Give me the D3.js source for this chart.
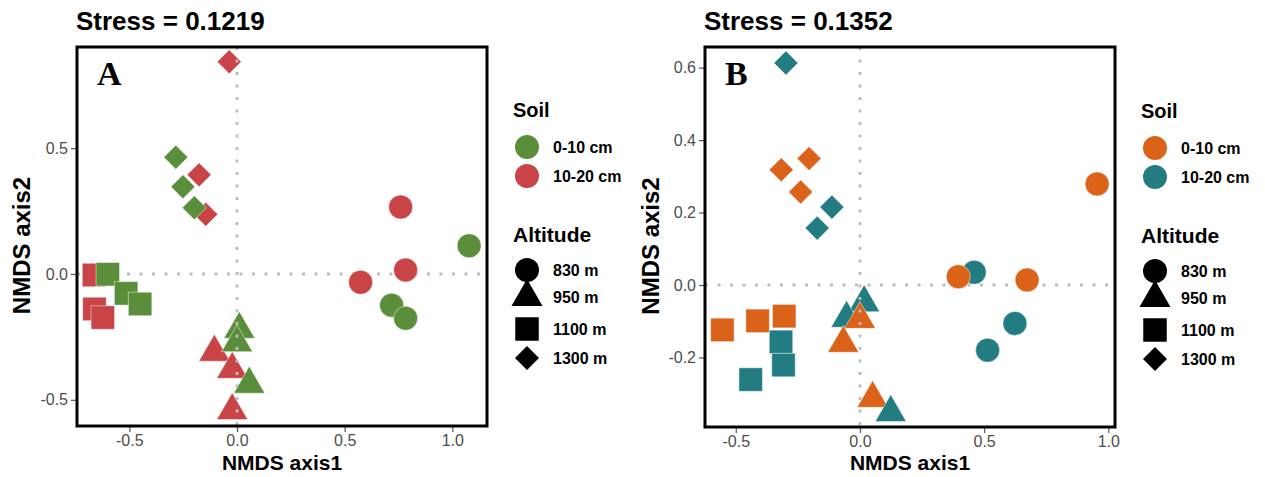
<!DOCTYPE html>
<html>
<head>
<meta charset="utf-8">
<script src="https://cdn.jsdelivr.net/npm/d3@7"></script>
<style>
  body { margin: 0; background: #fff; }
  text { font-family: "Liberation Sans", Arial, sans-serif; }
</style>
</head>
<body>
<div id="chart"></div>
<script>
/* values */
var soilLevels = ['0-10 cm', '10-20 cm'];
var altitudeLevels = ['830 m', '950 m', '1100 m', '1300 m'];

// panel A (listed in drawing order)
var axis1A = [0.760, 0.783, 0.574, -0.105, -0.022, -0.022, -0.664, -0.662, -0.623, -0.036, -0.176, -0.145,
              1.078, 0.718, 0.783, 0.011, 0.000, 0.057, -0.600, -0.515, -0.450, -0.284, -0.251, -0.198];
var axis2A = [0.266, 0.016, -0.033, -0.311, -0.379, -0.543, -0.004, -0.139, -0.173, 0.843, 0.394, 0.237,
              0.112, -0.124, -0.176, -0.220, -0.273, -0.438, -0.001, -0.077, -0.119, 0.464, 0.347, 0.263];
var soilA = [1,1,1, 1,1,1, 1,1,1, 1,1,1,
             0,0,0, 0,0,0, 0,0,0, 0,0,0];
var altA  = [0,0,0, 1,1,1, 2,2,2, 3,3,3,
             0,0,0, 1,1,1, 2,2,2, 3,3,3];

// panel B
var axis1B = [0.460, 0.624, 0.514, -0.318, -0.308, -0.440, -0.298, -0.113, -0.172, 0.017, -0.054,
              0.955, 0.396, 0.673, 0.000, -0.067, 0.051, -0.554, -0.412, -0.305, -0.317, -0.205, -0.239,
              0.124];
var axis2B = [0.035, -0.106, -0.180, -0.157, -0.221, -0.261, 0.613, 0.215, 0.157, -0.049, -0.092,
              0.279, 0.023, 0.014, -0.095, -0.161, -0.313, -0.124, -0.099, -0.086, 0.318, 0.349, 0.257,
              -0.352];
var soilB = [1,1,1, 1,1,1, 1,1,1, 1,1,
             0,0,0, 0,0,0, 0,0,0, 0,0,0,
             1];
var altB  = [0,0,0, 2,2,2, 3,3,3, 1,1,
             0,0,0, 1,1,1, 2,2,2, 3,3,3,
             1];

var stressA = 'Stress = 0.1219', stressB = 'Stress = 0.1352';
var xTicksA = [-0.5, 0, 0.5, 1.0], yTicksA = [-0.5, 0, 0.5];
var xTicksB = [-0.5, 0, 0.5, 1.0], yTicksB = [-0.2, 0, 0.2, 0.4, 0.6];
var xDomainA = [-0.743, 1.161], yDomainA = [-0.604, 0.902];
var xDomainB = [-0.624, 1.027], yDomainB = [-0.392, 0.657];

var svg = d3.select('#chart').append('svg')
    .attr('width', 1265)
    .attr('height', 477);

// shape for each altitude level
var shapeTypes = [d3.symbolCircle, d3.symbolTriangle, d3.symbolSquare, d3.symbolSquare];
var shapeSizes = [452, 416, 552, 289];
var shapeRotate = [0, 0, 0, 45];

function symbolPath(a){
    return d3.symbol().type(shapeTypes[a]).size(shapeSizes[a])();
}

function drawPanel(p){
    var g = svg.append('g');
    var x = d3.scaleLinear().domain(p.xDomain).range([p.left, p.right]);
    var y = d3.scaleLinear().domain(p.yDomain).range([p.bottom, p.top]);
    var fmt = function(d){ return d.toFixed(1); };

    // axes
    var xAxis = g.append('g')
        .attr('transform', 'translate(0,' + p.bottom + ')')
        .call(d3.axisBottom(x).tickValues(p.xTicks).tickFormat(fmt).tickSize(6).tickPadding(3));
    var yAxis = g.append('g')
        .attr('transform', 'translate(' + p.left + ',0)')
        .call(d3.axisLeft(y).tickValues(p.yTicks).tickFormat(fmt).tickSize(6).tickPadding(3));
    [xAxis, yAxis].forEach(function(a){
        a.select('.domain').remove();
        a.selectAll('line').attr('stroke', '#555').attr('stroke-width', 1.2);
        a.selectAll('text').attr('fill', '#4d4d4d').style('font-size', '16px');
    });

    var dotted = function(sel){
        sel.attr('stroke', '#bdbdbd').attr('stroke-width', 2.8).attr('stroke-dasharray', '3,9.5');
    };

    // horizontal zero line sits under the points
    g.append('line')
        .attr('x1', p.left).attr('x2', p.right)
        .attr('y1', y(0)).attr('y2', y(0))
        .call(dotted);

    // points
    var idx = d3.range(p.ax1.length);
    g.selectAll('.pt')
        .data(idx)
        .enter()
        .append('path')
        .attr('class', 'pt')
        .attr('d', function(i){ return symbolPath(p.alt[i]); })
        .attr('transform', function(i){
            return 'translate(' + x(p.ax1[i]) + ',' + y(p.ax2[i]) + ') rotate(' + shapeRotate[p.alt[i]] + ')';
        })
        .attr('fill', function(i){ return p.colors[p.soil[i]]; })
        .attr('stroke', '#fff')
        .attr('stroke-opacity', 0.6)
        .attr('stroke-width', 0.8);

    // vertical zero line is drawn over them
    g.append('line')
        .attr('x1', x(0)).attr('x2', x(0))
        .attr('y1', p.top).attr('y2', p.bottom)
        .call(dotted);

    // panel border
    g.append('rect')
        .attr('x', p.left).attr('y', p.top)
        .attr('width', p.right - p.left).attr('height', p.bottom - p.top)
        .attr('fill', 'none').attr('stroke', '#000').attr('stroke-width', 3);

    // titles
    g.append('text')
        .attr('x', p.left - 1).attr('y', 30)
        .style('font-size', '26px').style('font-weight', 'bold')
        .text(p.stress);
    g.append('text')
        .attr('x', p.left + 20).attr('y', 85)
        .style('font-family', '"Liberation Serif", "Times New Roman", serif')
        .style('font-size', '34px').style('font-weight', 'bold')
        .text(p.letter);
    g.append('text')
        .attr('x', (p.left + p.right) / 2).attr('y', 470)
        .attr('text-anchor', 'middle')
        .style('font-size', '21px').style('font-weight', 'bold')
        .text('NMDS axis1');
    g.append('text')
        .attr('transform', 'translate(' + p.yTitleX + ',' + ((p.top + p.bottom) / 2 + 9) + ') rotate(-90)')
        .attr('text-anchor', 'middle')
        .style('font-size', '24px').style('font-weight', 'bold')
        .text('NMDS axis2');

    // legend
    var lg = g.append('g').attr('transform', 'translate(' + p.legendX + ',' + p.legendY + ')');
    lg.append('text').attr('x', 0).attr('y', 0)
        .style('font-size', '20px').style('font-weight', 'bold').text('Soil');
    soilLevels.forEach(function(s, i){
        lg.append('path')
            .attr('d', symbolPath(0))
            .attr('transform', 'translate(14,' + (30 + i * 29) + ')')
            .attr('fill', p.colors[i]);
        lg.append('text')
            .attr('x', 40).attr('y', 30 + i * 29).attr('dy', '0.36em')
            .style('font-size', '16px').style('font-weight', 'bold').text(s);
    });
    lg.append('text').attr('x', 0).attr('y', 125)
        .style('font-size', '21px').style('font-weight', 'bold').text('Altitude');
    var altY = [153, 180, 212, 241];
    altitudeLevels.forEach(function(a, i){
        lg.append('path')
            .attr('d', symbolPath(i))
            .attr('transform', 'translate(14,' + altY[i] + ') rotate(' + shapeRotate[i] + ')')
            .attr('fill', '#000');
        lg.append('text')
            .attr('x', 40).attr('y', altY[i]).attr('dy', '0.36em')
            .style('font-size', '16px').style('font-weight', 'bold').text(a);
    });
}

drawPanel({
    ax1: axis1A, ax2: axis2A, soil: soilA, alt: altA,
    colors: ['#5b8e3a', '#c84447'],
    xDomain: xDomainA, yDomain: yDomainA, xTicks: xTicksA, yTicks: yTicksA,
    left: 77, right: 487, top: 47, bottom: 426,
    stress: stressA, letter: 'A', yTitleX: 30,
    legendX: 513, legendY: 117
});

drawPanel({
    ax1: axis1B, ax2: axis2B, soil: soilB, alt: altB,
    colors: ['#db6219', '#237c82'],
    xDomain: xDomainB, yDomain: yDomainB, xTicks: xTicksB, yTicks: yTicksB,
    left: 705, right: 1115, top: 47, bottom: 427,
    stress: stressB, letter: 'B', yTitleX: 659,
    legendX: 1141, legendY: 118
});
</script>
</body>
</html>
